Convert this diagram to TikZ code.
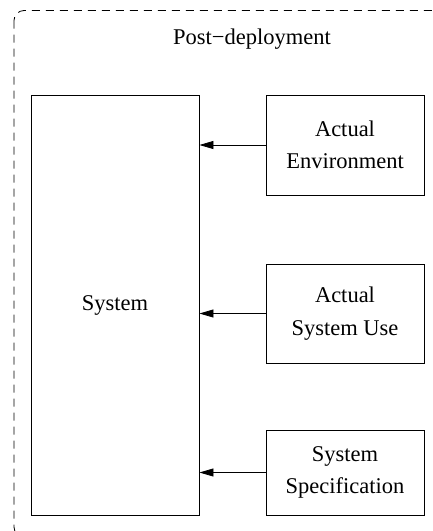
\documentclass[tikz,border=0pt]{standalone}
\usepackage{fontspec}
\setmainfont{Liberation Serif}
\usetikzlibrary{arrows.meta}
\begin{document}
\begin{tikzpicture}[x=1pt,y=1pt,
  box/.style={draw, line width=0.9pt, inner sep=0pt, align=center,
    font=\fontsize{22.5}{32.5}\selectfont},
  arr/.style={draw, line width=0.8pt, -{Triangle[length=14pt,width=8pt]}},
  frame/.style={draw, line width=0.8pt, dash pattern=on 8pt off 6pt, rounded corners=10pt}]
\useasboundingbox (0,0) rectangle (433,-531);
\draw[frame] (14,-10.5) rectangle (450,-537);
\node[font=\fontsize{22.5}{27}\selectfont] (title) at (252,-39) {Post−deployment};
\node[box, minimum width=168pt, minimum height=420pt] (sys) at (115,-305) {System};
\node[box, minimum width=158pt, minimum height=100pt] (env) at (345,-145) {Actual\\Environment};
\node[box, minimum width=158pt, minimum height=99pt] (use) at (345,-313.5) {Actual\\System Use};
\node[box, minimum width=158pt, minimum height=85pt] (spec) at (345,-472.5) {System\\Specification};
\draw[arr] (env.west) -- (env.west -| sys.east);
\draw[arr] (use.west) -- (use.west -| sys.east);
\draw[arr] (spec.west) -- (spec.west -| sys.east);
\end{tikzpicture}
\end{document}
